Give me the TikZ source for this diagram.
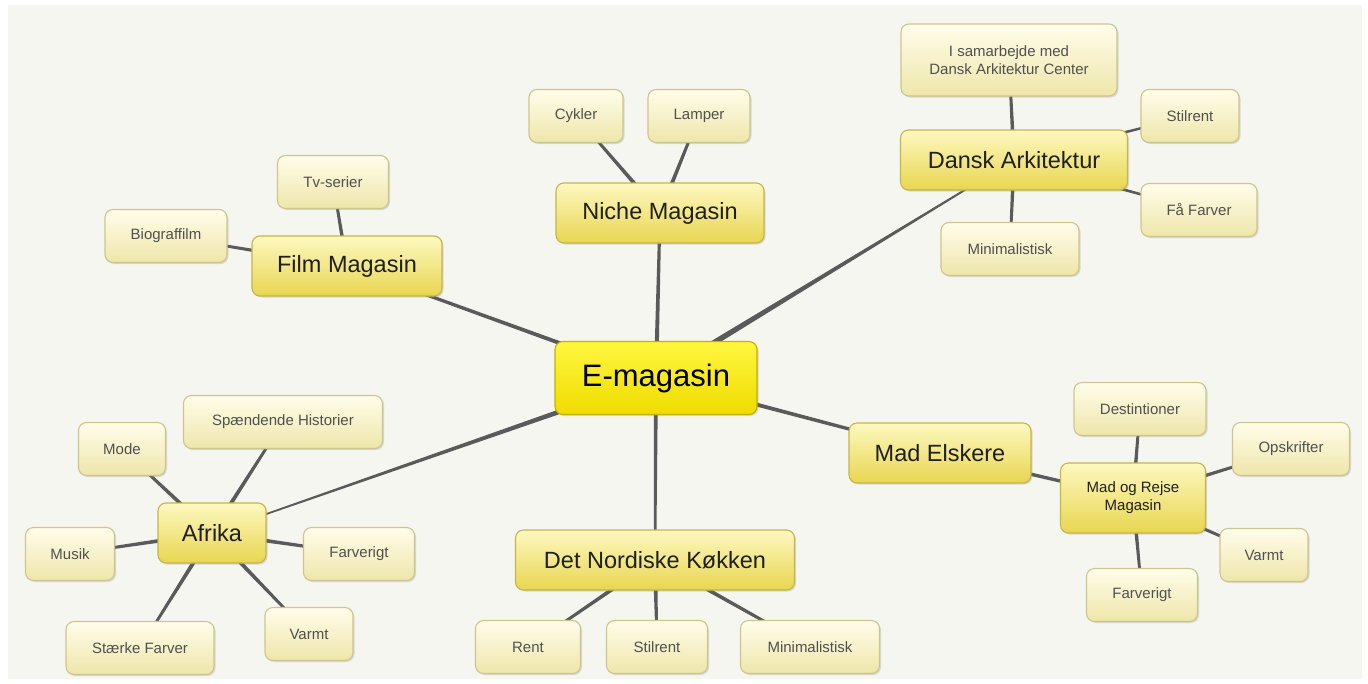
\documentclass[tikz,border=0pt]{standalone}
\usepackage{fontspec}
\setmainfont{Liberation Sans}
\usetikzlibrary{calc,shadows,backgrounds}
\definecolor{bgc}{HTML}{F6F6F1}
\definecolor{linec}{HTML}{5A5A5A}
\definecolor{leafb}{HTML}{CEC58C}
\definecolor{leaft}{HTML}{FFFDEA}
\definecolor{leafbot}{HTML}{EEE6AA}
\definecolor{leaftext}{HTML}{505050}
\definecolor{mainb}{HTML}{C6B54A}
\definecolor{maint}{HTML}{FDF8C0}
\definecolor{mainbot}{HTML}{E8D650}
\definecolor{rootb}{HTML}{C2B200}
\definecolor{roott}{HTML}{FFF640}
\definecolor{rootbot}{HTML}{F0DC00}
\tikzset{
  boxbase/.style={rounded corners=8pt, line width=1.1pt, align=center,
    drop shadow={shadow xshift=1.5pt, shadow yshift=-1.5pt, opacity=0.25}},
  leaf/.style={boxbase, draw=leafb, top color=leaft, bottom color=leafbot,
    minimum height=53pt, text=leaftext, font=\fontsize{15}{18}\selectfont},
  mainbox/.style={boxbase, draw=mainb, top color=maint, bottom color=mainbot,
    minimum height=60pt, text=black!88, font=\fontsize{23.5}{28}\selectfont},
  rootbox/.style={boxbase, draw=rootb, top color=roott, bottom color=rootbot,
    minimum height=73pt, text=black, font=\fontsize{31}{36}\selectfont}
}
\newcommand\conn[4]{\fill[linec] ($(#1)!#3!90:(#2)$) -- ($(#1)!#3!-90:(#2)$) -- ($(#2)!#4!90:(#1)$) -- ($(#2)!#4!-90:(#1)$) -- cycle;}
\begin{document}
\begin{tikzpicture}[x=1pt,y=-1pt]
\useasboundingbox (0,0) rectangle (1368,683);
% nodes
\node[rootbox, minimum width=202pt] (c) at (656,378) {E-magasin};
\node[mainbox, minimum width=208pt] (niche) at (660,213) {Niche Magasin};
\node[leaf, minimum width=94pt] (cyk) at (576,116) {Cykler};
\node[leaf, minimum width=102pt] (lam) at (699,116) {Lamper};
\node[mainbox, minimum width=227pt] (dansk) at (1014,160) {Dansk Arkitektur};
\node[leaf, minimum width=216pt, minimum height=72pt] (isam) at (1009,60) {I samarbejde med\\Dansk Arkitektur Center};
\node[leaf, minimum width=98pt] (stil1) at (1190,116) {Stilrent};
\node[leaf, minimum width=116pt] (faa) at (1199,210) {Få Farver};
\node[leaf, minimum width=138pt] (min1) at (1010,249) {Minimalistisk};
\node[mainbox, minimum width=190pt] (film) at (347,266) {Film Magasin};
\node[leaf, minimum width=111pt] (tv) at (333,182) {Tv-serier};
\node[leaf, minimum width=122pt] (bio) at (166,236) {Biograffilm};
\node[mainbox, minimum width=182pt] (mad) at (940,453) {Mad Elskere};
\node[mainbox, minimum width=145pt, minimum height=70pt, font=\fontsize{15}{18}\selectfont] (mr) at (1133,498) {Mad og Rejse\\Magasin};
\node[leaf, minimum width=132pt] (dest) at (1140,409) {Destintioner};
\node[leaf, minimum width=117pt] (opsk) at (1291,449) {Opskrifter};
\node[leaf, minimum width=88pt] (varm2) at (1264,555) {Varmt};
\node[leaf, minimum width=111pt] (farv2) at (1142,595) {Farverigt};
\node[mainbox, minimum width=279pt] (nord) at (655,560) {Det Nordiske Køkken};
\node[leaf, minimum width=105pt] (rent) at (528,647) {Rent};
\node[leaf, minimum width=101pt] (stil2) at (657,647) {Stilrent};
\node[leaf, minimum width=139pt] (min2) at (810,647) {Minimalistisk};
\node[mainbox, minimum width=108pt] (afr) at (212,533) {Afrika};
\node[leaf, minimum width=87pt] (mode) at (122,449) {Mode};
\node[leaf, minimum width=199pt] (spae) at (283,422) {Spændende Historier};
\node[leaf, minimum width=89pt] (mus) at (70,554) {Musik};
\node[leaf, minimum width=111pt] (farv1) at (359,554) {Farverigt};
\node[leaf, minimum width=148pt] (staer) at (140,648) {Stærke Farver};
\node[leaf, minimum width=88pt] (varm1) at (309,634) {Varmt};
% background and connectors
\begin{scope}[on background layer]
\fill[white] (0,0) rectangle (1368,683);
\fill[bgc] (8,5) rectangle (1362,679);
\conn{c}{niche}{2.2pt}{1.4pt}
\conn{c}{film}{2.2pt}{1.4pt}
\conn{c}{mad}{2.2pt}{1.4pt}
\conn{c}{nord}{2.0pt}{1.2pt}
\conn{c}{dansk}{3.2pt}{0.6pt}
\conn{c}{afr}{2.8pt}{0.6pt}
\conn{niche}{cyk}{2.2pt}{1.2pt}
\conn{niche}{lam}{2.2pt}{1.2pt}
\conn{dansk}{isam}{2.0pt}{1.2pt}
\conn{dansk}{stil1}{1.8pt}{1.0pt}
\conn{dansk}{faa}{1.8pt}{1.0pt}
\conn{dansk}{min1}{2.0pt}{1.2pt}
\conn{film}{tv}{2.0pt}{1.2pt}
\conn{film}{bio}{2.0pt}{1.2pt}
\conn{mad}{mr}{2.0pt}{1.4pt}
\conn{mr}{dest}{2.0pt}{1.2pt}
\conn{mr}{opsk}{2.0pt}{1.2pt}
\conn{mr}{varm2}{2.0pt}{1.2pt}
\conn{mr}{farv2}{2.0pt}{1.2pt}
\conn{nord}{rent}{2.2pt}{1.2pt}
\conn{nord}{stil2}{2.2pt}{1.2pt}
\conn{nord}{min2}{2.2pt}{1.2pt}
\conn{afr}{mode}{2.2pt}{1.2pt}
\conn{afr}{spae}{2.2pt}{1.2pt}
\conn{afr}{mus}{2.2pt}{1.2pt}
\conn{afr}{farv1}{2.2pt}{1.2pt}
\conn{afr}{staer}{2.2pt}{1.2pt}
\conn{afr}{varm1}{2.2pt}{1.2pt}
\end{scope}
\end{tikzpicture}
\end{document}
